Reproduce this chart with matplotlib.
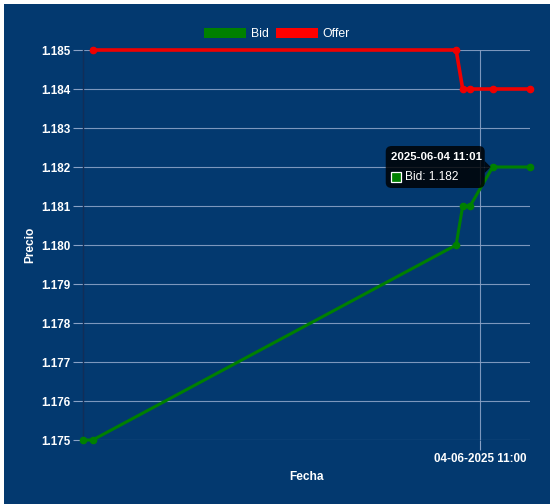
import matplotlib.pyplot as plt
import matplotlib.dates as mdates
from matplotlib.patches import Rectangle, FancyBboxPatch, Polygon, Patch
import numpy as np
import pandas as pd

plt.rcParams['font.family'] = ['Liberation Sans', 'DejaVu Sans']

# data (2025-06-04)
bid_times = ['10:28:43', '10:29:30', '10:58:07', '10:58:38', '10:59:13', '11:01:00', '11:03:56']
bid_values = [1.175, 1.175, 1.180, 1.181, 1.181, 1.182, 1.182]
offer_times = ['10:29:30', '10:58:07', '10:58:38', '10:59:13', '11:01:00', '11:03:56']
offer_values = [1.185, 1.185, 1.184, 1.184, 1.184, 1.184]
y_ticks = [1.175, 1.176, 1.177, 1.178, 1.179, 1.180, 1.181, 1.182, 1.183, 1.184, 1.185]
x_tick = '11:00:00'
x_tick_label = '04-06-2025 11:00'
tooltip_idx = 5

day = '2025-06-04 '
bid_t = pd.to_datetime([day + t for t in bid_times])
offer_t = pd.to_datetime([day + t for t in offer_times])

W, H = 552, 504
bg = '#03396f'
grid_c = '#8aa2c6'

fig = plt.figure(figsize=(W / 100, H / 100), dpi=100, facecolor='white')

def fx(x):
    return x / W

def fy(y):
    return 1 - y / H

# blue panel with a thin white border
fig.patches.append(Rectangle((fx(4), 0), fx(546), fy(4), transform=fig.transFigure,
                             facecolor=bg, edgecolor='none', zorder=-10))

ax = fig.add_axes([fx(82.7), fy(440), fx(530 - 82.7), (440 - 50) / H])
ax.set_facecolor('none')
ax.set_zorder(1)

ax.plot(offer_t, offer_values, color='#f00000', lw=2.6, marker='o', ms=4.5, zorder=3, clip_on=False)
ax.plot(bid_t, bid_values, color='#008000', lw=2.2, marker='o', ms=4.5, zorder=3, clip_on=False)

ax.set_xlim(bid_t[0], bid_t[-1])
ax.set_ylim(y_ticks[0], y_ticks[-1])
ax.set_yticks(y_ticks)
ax.set_yticklabels(['%.3f' % v for v in y_ticks])
ax.set_xticks([pd.Timestamp(day + x_tick)])
ax.set_xticklabels([x_tick_label])

ax.grid(True, color=grid_c, lw=0.8, alpha=0.9)
ax.tick_params(colors=grid_c, length=7, width=0.8, pad=2)
for lab in ax.get_yticklabels() + ax.get_xticklabels():
    lab.set_color('white')
    lab.set_fontsize(8.4)
    lab.set_fontweight('bold')

for s in ['top', 'right', 'bottom']:
    ax.spines[s].set_visible(False)
ax.spines['left'].set_color('#122e58')
ax.spines['left'].set_linewidth(1)

fig.text(fx(30), fy(245), 'Precio', rotation=90, color='white', fontsize=8.6,
         fontweight='bold', ha='center', va='center')
fig.text(fx(306), fy(477), 'Fecha', color='white', fontsize=8.6,
         fontweight='bold', ha='center', va='center')

handles = [Patch(facecolor='#008000', edgecolor='none', label='Bid'),
           Patch(facecolor='#ff0000', edgecolor='none', label='Offer')]
leg = fig.legend(handles=handles, loc='center', bbox_to_anchor=(fx(277), fy(34)), ncol=2,
                 frameon=False, fontsize=8.8, handlelength=3.4, handleheight=0.9,
                 handletextpad=0.4, columnspacing=0.6)
for t in leg.get_texts():
    t.set_color('white')

# tooltip for the hovered bid point
fig.canvas.draw()
px, py = ax.transData.transform((mdates.date2num(bid_t[tooltip_idx]), bid_values[tooltip_idx]))
py = H - py  # pixel from top
right = px - 8
left = right - 99
top = py - 21
bottom = py + 21
tip_bg = '#000000'
fig.patches.append(FancyBboxPatch((fx(left), fy(bottom)), fx(right - left), (bottom - top) / H,
                                  boxstyle='round,pad=0,rounding_size=0.011',
                                  transform=fig.transFigure, facecolor=tip_bg, alpha=0.82,
                                  edgecolor='none', zorder=5))
fig.patches.append(Polygon([(fx(right), fy(py - 6)), (fx(right + 6), fy(py)), (fx(right), fy(py + 6))],
                           closed=True, transform=fig.transFigure, facecolor=tip_bg, alpha=0.82,
                           edgecolor='none', zorder=5))
fig.text(fx(left + 5), fy(top + 11), bid_t[tooltip_idx].strftime('%Y-%m-%d %H:%M'),
         color='white', fontsize=8.2, fontweight='bold', ha='left', va='center', zorder=6)
fig.patches.append(Rectangle((fx(left + 5), fy(bottom - 6)), fx(10), 10 / H, transform=fig.transFigure,
                             facecolor='#008000', edgecolor='white', lw=0.9, zorder=6))
fig.text(fx(left + 19), fy(bottom - 11.5), 'Bid: %.3f' % bid_values[tooltip_idx],
         color='white', fontsize=8.6, ha='left', va='center', zorder=6)

fig.savefig('out.png', dpi=100, facecolor=fig.get_facecolor())
